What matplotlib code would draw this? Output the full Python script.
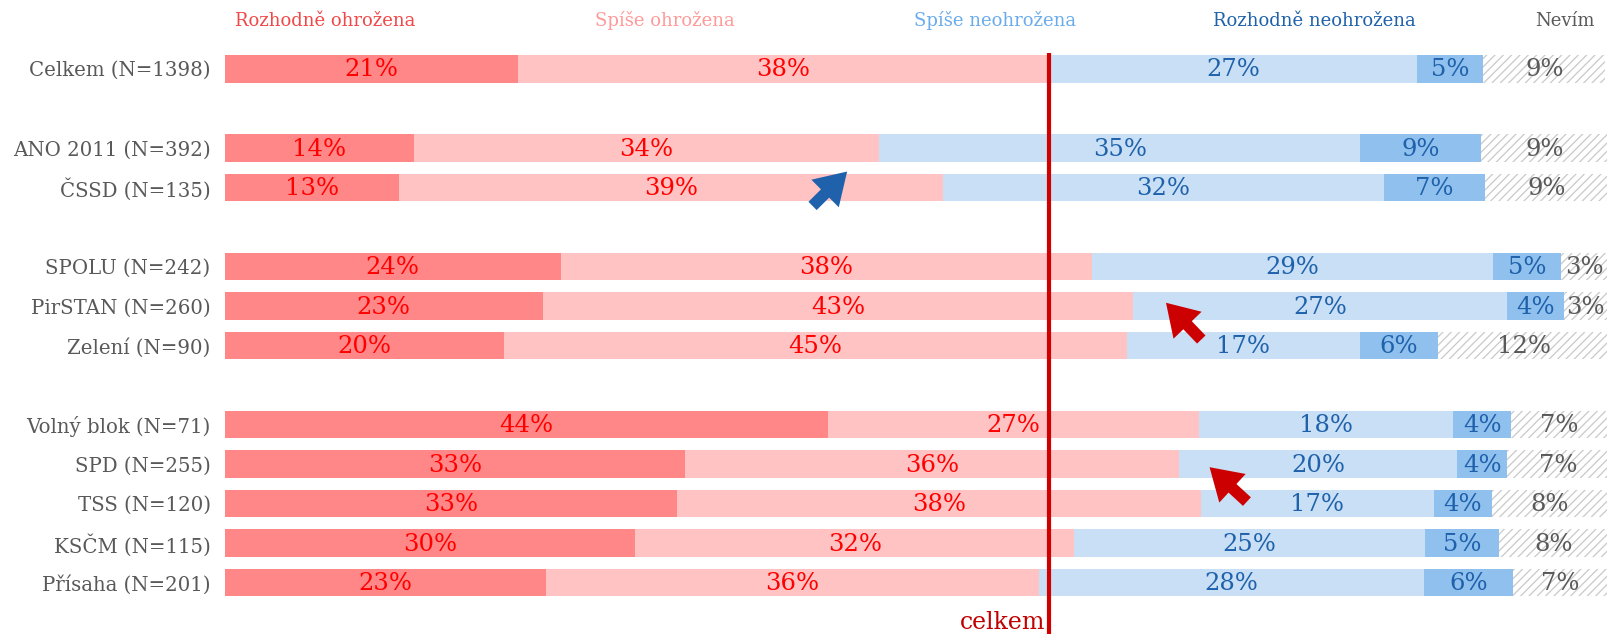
import matplotlib
matplotlib.use("Agg")
import matplotlib.pyplot as plt
from matplotlib.patches import FancyArrowPatch

plt.rcParams['font.family'] = ['DejaVu Serif']
plt.rcParams['hatch.linewidth'] = 0.9

categories = ["Celkem (N=1398)", "ANO 2011 (N=392)", "ČSSD (N=135)",
              "SPOLU (N=242)", "PirSTAN (N=260)", "Zelení (N=90)",
              "Volný blok (N=71)", "SPD (N=255)", "TSS (N=120)",
              "KSČM (N=115)", "Přísaha (N=201)"]
positions = [0, 2, 3, 5, 6, 7, 9, 10, 11, 12, 13]

series_names = ["Rozhodně ohrožena", "Spíše ohrožena", "Spíše neohrožena",
                "Rozhodně neohrožena", "Nevím"]
rozhodne_ohrozena = [21.2, 13.7, 12.6, 24.3, 23.0, 20.2, 43.6, 33.3, 32.7, 29.7, 23.2]
spise_ohrozena    = [38.4, 33.6, 39.3, 38.4, 42.7, 45.0, 26.8, 35.7, 37.9, 31.7, 35.7]
spise_neohrozena  = [26.6, 34.8, 31.9, 29.0, 27.0, 16.9, 18.4, 20.1, 16.8, 25.4, 27.8]
rozhodne_neohrozena = [4.8, 8.7, 7.3, 4.9, 4.1, 5.6, 4.2, 3.6, 4.2, 5.3, 6.4]
nevim             = [8.8, 9.2, 9.0, 3.4, 3.2, 12.4, 7.0, 7.4, 8.4, 7.9, 6.9]
series = [rozhodne_ohrozena, spise_ohrozena, spise_neohrozena, rozhodne_neohrozena, nevim]

fill_colors = ["#ff8787", "#ffc3c3", "#c8dff5", "#8fc0ee", "white"]
text_colors = ["#ff0000", "#ff0000", "#1f62ab", "#1f62ab", "#595959"]
header_colors = ["#f04848", "#ff9a9a", "#6aaceb", "#1f62ab", "#595959"]
header_x = [7.3, 31.8, 55.7, 78.8, 96.9]

fig = plt.figure(figsize=(16.08, 6.34), dpi=100)
ax = fig.add_axes([224.6 / 1608, 0, 1 - 224.6 / 1608, 1])
ax.set_xlim(0, 100)
ax.set_ylim(14.30, -1.74)

bar_h = 0.70
left = [0.0] * len(categories)
for i, vals in enumerate(series):
    if i == 4:
        ax.barh(positions, vals, left=left, height=bar_h, color="white",
                edgecolor="#c9c9c9", hatch="////", linewidth=0)
    else:
        ax.barh(positions, vals, left=left, height=bar_h, color=fill_colors[i],
                edgecolor="none", linewidth=0)
    for j, v in enumerate(vals):
        c = left[j] + v / 2
        ax.text(c, positions[j] + 0.03, f"{v:.0f}%", ha="center", va="center",
                fontsize=17.5, color=text_colors[i])
    left = [l + v for l, v in zip(left, vals)]

# header labels
for i, name in enumerate(series_names):
    ax.text(header_x[i], -1.22, name, ha="center", va="center",
            fontsize=13, color=header_colors[i])

# reference line: total threatened share for Celkem
celkem_line = rozhodne_ohrozena[0] + spise_ohrozena[0]
ax.plot([celkem_line, celkem_line], [-0.40, 14.30], color="#d00000", lw=3,
        solid_capstyle="butt", zorder=5)
ax.text(celkem_line - 0.25, 14.0, "celkem", ha="right", va="center",
        fontsize=17, color="#c00000")

# arrows
arrows = [((42.5, 3.47), (45.0, 2.60), "#1f62ab"),
          ((70.6, 6.85), (68.05, 5.92), "#cc0000"),
          ((73.9, 10.95), (71.2, 10.08), "#cc0000")]
for tail, tip, col in arrows:
    ax.add_patch(FancyArrowPatch(tail, tip,
                                 arrowstyle="simple,head_length=0.8,head_width=1.0,tail_width=0.3",
                                 mutation_scale=28, color=col, lw=0, zorder=6,
                                 shrinkA=0, shrinkB=0))

ax.set_yticks(positions)
ax.set_yticklabels(categories, fontsize=14.2, color="#595959")
ax.tick_params(axis="y", length=0, pad=10)
ax.set_xticks([])
for s in ax.spines.values():
    s.set_visible(False)

fig.savefig("out.png", dpi=100)
